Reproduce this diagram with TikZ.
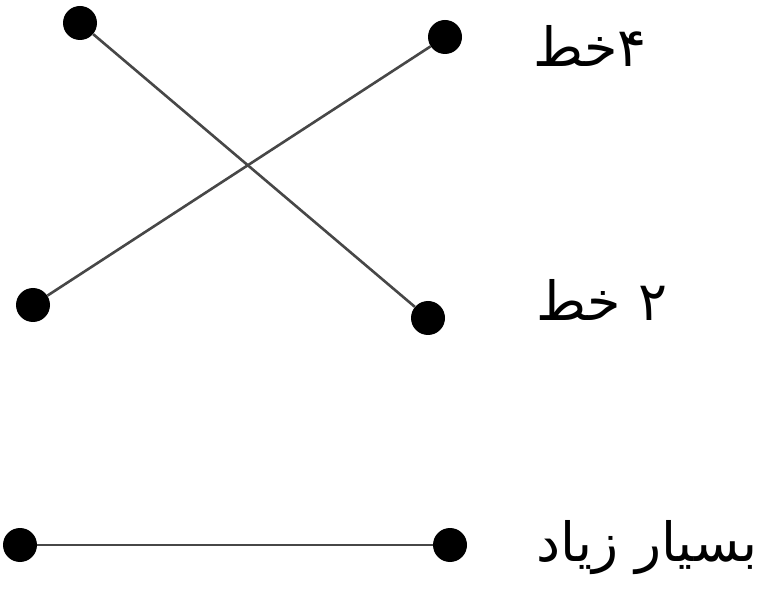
\documentclass[tikz,border=0pt]{standalone}
\usepackage{fontspec}
\newfontfamily\arabicfont[Script=Arabic]{DejaVu Sans}
\TeXXeTstate=1
\begin{document}
\begin{tikzpicture}[x=1pt,y=-1pt,
  dot/.style={circle,fill=black,inner sep=0pt,minimum size=34pt},
  link/.style={line width=2.6pt,draw=black!72},
  lbl/.style={font=\arabicfont\fontsize{54}{60}\selectfont,inner sep=0pt}]
\useasboundingbox (0,0) rectangle (774,601);
\node[dot] (a) at (80,23) {};
\node[dot] (b) at (445,37) {};
\node[dot] (c) at (33,305) {};
\node[dot] (d) at (428,318) {};
\node[dot] (e) at (20,545) {};
\node[dot] (f) at (450,545) {};
\draw[link] (a) -- (d);
\draw[link] (c) -- (b);
\draw[link] (e) -- (f);
\node[lbl] (t1) at (590,46) {\beginR ۴خط\endR};
\node[lbl] (t2) at (602,300) {\beginR ۲ خط\endR};
\node[lbl] (t3) at (647,548) {\beginR بسیار زیاد\endR};
\end{tikzpicture}
\end{document}
